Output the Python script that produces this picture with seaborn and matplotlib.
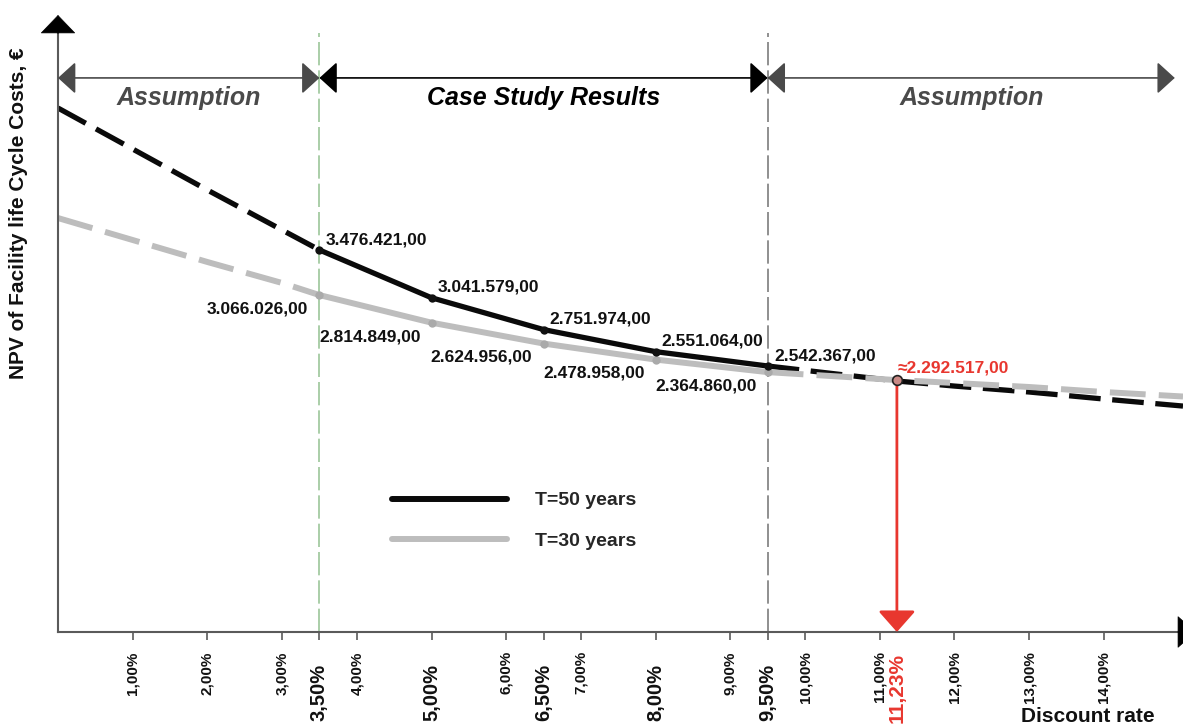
import matplotlib
matplotlib.use("Agg")
import matplotlib.pyplot as plt
import seaborn as sns
from matplotlib.lines import Line2D

# ---------------- data ----------------
# case-study discount rates (%) and NPV values (EUR)
study_rates = [3.5, 5.0, 6.5, 8.0, 9.5]
t50_study = [3476421, 3041579, 2751974, 2551064, 2420600]
t30_study = [3066026, 2814849, 2624956, 2478958, 2364860]
t50_labels = ["3.476.421,00", "3.041.579,00", "2.751.974,00", "2.551.064,00", "2.542.367,00"]
t30_labels = ["3.066.026,00", "2.814.849,00", "2.624.956,00", "2.478.958,00", "2.364.860,00"]

# assumed (extrapolated) parts
low_rates = [0.0, 1.0, 2.0, 3.0, 3.5]
t50_low = [4768000, 4395000, 4022000, 3658000, 3476421]
t30_low = [3767000, 3567000, 3367000, 3176000, 3066026]

high_rates = [9.5, 11.23, 12.0, 13.0, 14.0, 15.06]
t50_high = [2420600, 2284000, 2238000, 2184000, 2120000, 2056000]
t30_high = [2364860, 2292517, 2266000, 2229500, 2184000, 2143000]

cross_rate = 11.23
cross_value = 2292517
cross_label = "\u22482.292.517,00"
cross_tick = "11,23%"

minor_ticks = [1, 2, 3, 4, 6, 7, 9, 10, 11, 12, 13, 14]
minor_labels = ["1,00%", "2,00%", "3,00%", "4,00%", "6,00%", "7,00%", "9,00%",
                "10,00%", "11,00%", "12,00%", "13,00%", "14,00%"]
major_ticks = [3.5, 5.0, 6.5, 8.0, 9.5]
major_labels = ["3,50%", "5,00%", "6,50%", "8,00%", "9,50%"]

region_bounds = [0.0, 3.5, 9.5, 14.95]
region_names = ["Assumption", "Case Study Results", "Assumption"]
region_colors = ["#4a4a4a", "#000000", "#4a4a4a"]

series_names = ["T=50 years", "T=30 years"]

# ---------------- style ----------------
sns.set_theme(style="white")
plt.rcParams["font.family"] = ["Liberation Sans", "DejaVu Sans"]
plt.rcParams["font.weight"] = "bold"
plt.rcParams["axes.labelweight"] = "bold"

BLACK = "#0a0a0a"
GRAY = "#bdbdbd"
RED = "#e8372f"
AXC = "#5a5a5a"

fig = plt.figure(figsize=(11.83, 7.28), dpi=100)
ax = fig.add_axes([58 / 1183, 96 / 728, 1125 / 1183, 599 / 728])

ax.set_xlim(0, 15.06)
ax.set_ylim(0, 5450900)

dash = (0, (6, 2.2))
lw50 = 3.8
lw30 = 4.3

# assumption (low) segment
sns.lineplot(x=low_rates, y=t30_low, ax=ax, color=GRAY, lw=lw30, linestyle=dash,
             dash_capstyle="butt")
sns.lineplot(x=low_rates, y=t50_low, ax=ax, color=BLACK, lw=lw50, linestyle=dash,
             dash_capstyle="butt")
# high segment
sns.lineplot(x=high_rates, y=t50_high, ax=ax, color=BLACK, lw=lw50, linestyle=dash,
             dash_capstyle="butt")
sns.lineplot(x=high_rates, y=t30_high, ax=ax, color=GRAY, lw=lw30, linestyle=dash,
             dash_capstyle="butt")
# case-study segment
sns.lineplot(x=study_rates, y=t30_study, ax=ax, color=GRAY, lw=lw30,
             marker="o", markersize=6, markeredgewidth=0, markerfacecolor="#aaaaaa")
sns.lineplot(x=study_rates, y=t50_study, ax=ax, color=BLACK, lw=lw50,
             marker="o", markersize=6, markeredgewidth=0, markerfacecolor="#111111")

# vertical separators
ax.axvline(region_bounds[1], color="#9cc69a", lw=1.2, ls=(0, (14, 3)), zorder=0)
ax.axvline(region_bounds[2], color="#7d7d7d", lw=1.2, ls=(0, (14, 3)), zorder=0)

# data labels
for x, y, s in zip(study_rates, t50_study, t50_labels):
    ax.annotate(s, xy=(x, y), xytext=(4.5, 7.5), textcoords="offset points",
                ha="left", va="center", fontsize=12.5, color="#111111")
for x, y, s in zip(study_rates, t30_study, t30_labels):
    ax.annotate(s, xy=(x, y), xytext=(-8, -10), textcoords="offset points",
                ha="right", va="center", fontsize=12.5, color="#111111")

# red crossing marker + arrow
ax.annotate("", xy=(cross_rate, 0), xytext=(cross_rate, cross_value),
            arrowprops=dict(arrowstyle="-|>,head_length=13,head_width=11.5",
                            mutation_scale=1, color=RED, lw=2.0,
                            shrinkA=0, shrinkB=0), zorder=5)
ax.plot([cross_rate], [cross_value], "o", ms=7, mfc="#c98a86", mec="#222222",
        mew=1.2, zorder=6)
ax.annotate(cross_label, xy=(cross_rate, cross_value), xytext=(0.5, 9),
            textcoords="offset points", ha="left", va="center", fontsize=12.5,
            color=RED)

# region arrows and names
for i in range(3):
    a, b = region_bounds[i], region_bounds[i + 1]
    ax.annotate("", xy=(b, 0.925), xytext=(a, 0.925),
                xycoords=("data", "axes fraction"), textcoords=("data", "axes fraction"),
                arrowprops=dict(arrowstyle="<|-|>,head_length=11,head_width=10",
                                mutation_scale=1, color=region_colors[i], lw=1.2,
                                shrinkA=0, shrinkB=0), annotation_clip=False)
    ax.text((a + b) / 2, 0.8915, region_names[i], transform=ax.get_xaxis_transform(),
            ha="center", va="center", fontsize=18, style="italic",
            color=region_colors[i])

# axes styling
sns.despine(ax=ax)
for side in ["left", "bottom"]:
    ax.spines[side].set_color(AXC)
    ax.spines[side].set_linewidth(1.5)
ax.set_yticks([])

ax.set_xticks(major_ticks, major_labels)
ax.set_xticks(minor_ticks, minor_labels, minor=True)
ax.tick_params(axis="x", which="major", bottom=True, length=5.8, width=1.2,
               color=AXC, pad=17, labelsize=14.5, rotation=90, labelcolor="#111111")
ax.tick_params(axis="x", which="minor", bottom=True, length=5.8, width=1.2,
               color=AXC, pad=8, labelsize=11, rotation=90, labelcolor="#111111")
ax.annotate(cross_tick, xy=(cross_rate, 0), xycoords=("data", "axes fraction"),
            xytext=(0, -15), textcoords="offset points", rotation=90,
            ha="center", va="top", fontsize=15, color=RED, annotation_clip=False)

# axis arrow heads
ax.annotate("", xy=(0, 1.03), xytext=(0, 0.999), xycoords="axes fraction",
            arrowprops=dict(arrowstyle="-|>,head_length=12.5,head_width=12",
                            mutation_scale=1, color="black", lw=0.5,
                            shrinkA=0, shrinkB=0), annotation_clip=False)
ax.annotate("", xy=(1.0115, 0), xytext=(0.9955, 0), xycoords="axes fraction",
            arrowprops=dict(arrowstyle="-|>,head_length=12.5,head_width=11",
                            mutation_scale=1, color="black", lw=0.5,
                            shrinkA=0, shrinkB=0), annotation_clip=False)

# axis titles
ax.set_ylabel("NPV of Facility life Cycle Costs, \u20ac", fontsize=15,
              fontweight="bold", color="#111111")
ax.yaxis.set_label_coords(-0.027, 0.70)
fig.text(1088 / 1183, 1 - 717 / 728, "Discount rate", ha="center", va="center",
         fontsize=15, color="#111111")

# legend
handles = [Line2D([], [], color=BLACK, lw=4.3, solid_capstyle="round"),
           Line2D([], [], color=GRAY, lw=4.3, solid_capstyle="round")]
ax.legend(handles, series_names, loc="upper left", bbox_to_anchor=(0.2969, 0.234),
          frameon=False, fontsize=14, handlelength=5.9, handletextpad=1.44,
          labelspacing=1.16, borderpad=0, borderaxespad=0)

fig.savefig("out.png", dpi=100)
